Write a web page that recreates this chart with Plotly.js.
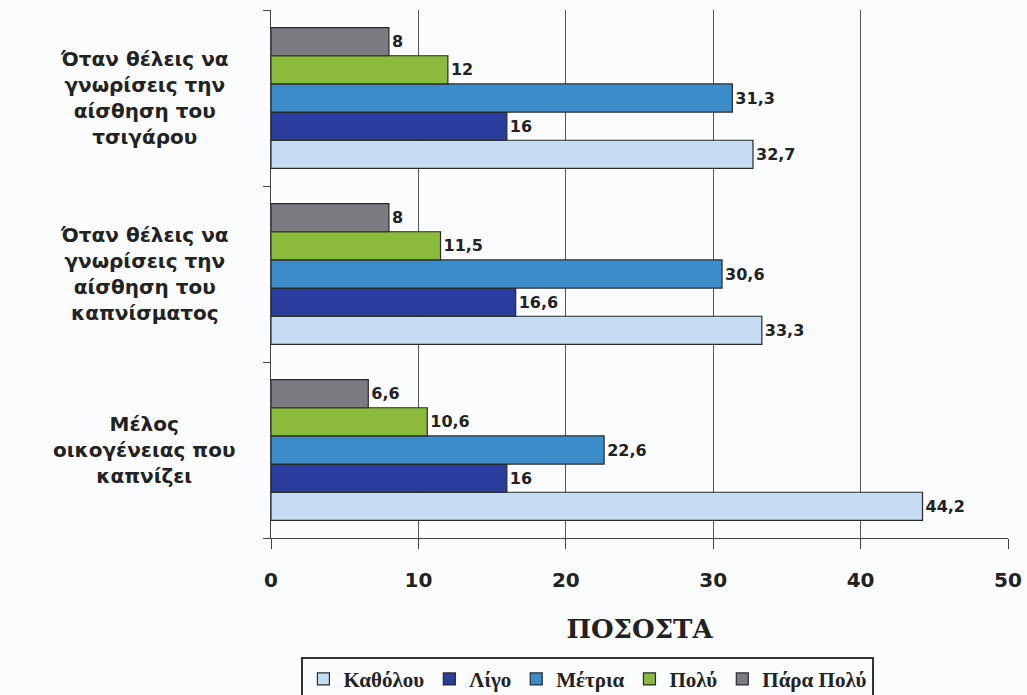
<!DOCTYPE html>
<html><head><meta charset="utf-8">
<script src="https://cdn.plot.ly/plotly-3.0.1.min.js"></script>
<style>body{margin:0;background:#fbfcfd}</style>
</head><body><div id="chart" style="width:1027px;height:695px"></div>
<script>
const categories = [
  "Μέλος<br>οικογένειας που<br>καπνίζει",
  "Όταν θέλεις να<br>γνωρίσεις την<br>αίσθηση του<br>καπνίσματος",
  "Όταν θέλεις να<br>γνωρίσεις την<br>αίσθηση του<br>τσιγάρου"
];
const seriesNames = ["Καθόλου", "Λίγο", "Μέτρια", "Πολύ", "Πάρα Πολύ"];
const kathólou = [44.2, 33.3, 32.7];
const ligo = [16, 16.6, 16];
const metria = [22.6, 30.6, 31.3];
const poly = [10.6, 11.5, 12];
const paraPoly = [6.6, 8, 8];
const xTicks = [0, 10, 20, 30, 40, 50];

const seriesValues = [kathólou, ligo, metria, poly, paraPoly];
const colors = ["#c6dcf2", "#2a3d9c", "#3b8ccb", "#8cba3c", "#7b7b82"];

const traces = seriesValues.map((vals, i) => ({
  type: "bar",
  orientation: "h",
  name: seriesNames[i],
  y: categories,
  x: vals,
  text: vals.map(v => "<b>" + String(v).replace(".", ",") + "</b>"),
  textposition: "outside",
  cliponaxis: false,
  textfont: {family: "DejaVu Sans", size: 16, color: "#222"},
  marker: {color: colors[i], line: {color: "#2a2a2a", width: 1.2}},
  hoverinfo: "x"
}));

const annotations = categories.map(c => ({
  xref: "paper", yref: "y", x: -0.172, y: c,
  text: "<b>" + c + "</b>", showarrow: false, align: "center",
  xanchor: "center", yanchor: "middle",
  font: {family: "DejaVu Sans", size: 20, color: "#222"}
}));

const layout = {
  width: 1027, height: 695,
  paper_bgcolor: "#fbfcfd", plot_bgcolor: "#fbfcfd",
  margin: {l: 271, r: 19, t: 10, b: 157},
  barmode: "group", bargap: 0.2, bargroupgap: 0,
  showlegend: true,
  legend: {
    orientation: "h", x: 0.43, xanchor: "center", xref: "paper",
    yref: "container", y: 0.055, yanchor: "top", traceorder: "normal",
    bordercolor: "#333", borderwidth: 2, bgcolor: "#fbfcfd",
    font: {family: "Liberation Serif", size: 21, color: "#222", weight: "bold"},
    itemwidth: 30
  },
  xaxis: {
    range: [0, 50], tickvals: xTicks, ticktext: xTicks.map(v => "<b>" + v + "</b>"),
    automargin: false,
    showgrid: true, gridcolor: "#555", gridwidth: 1,
    showline: true, linecolor: "#444", linewidth: 1,
    ticks: "outside", ticklen: 10, tickcolor: "#444",
    ticklabelstandoff: 14,
    zeroline: false,
    tickfont: {family: "DejaVu Sans", size: 20, color: "#222"},
    title: {text: "<b>ΠΟΣΟΣΤΑ</b>", standoff: 28,
      font: {family: "DejaVu Serif", size: 26, color: "#222"}}
  },
  yaxis: {
    type: "category", showticklabels: false, automargin: false,
    showline: true, linecolor: "#444", linewidth: 1,
    ticks: "outside", ticklen: 7, tickcolor: "#444", tickson: "boundaries",
    showgrid: false, zeroline: false
  },
  annotations: annotations
};

Plotly.newPlot("chart", traces, layout, {displayModeBar: false});
</script></body></html>
